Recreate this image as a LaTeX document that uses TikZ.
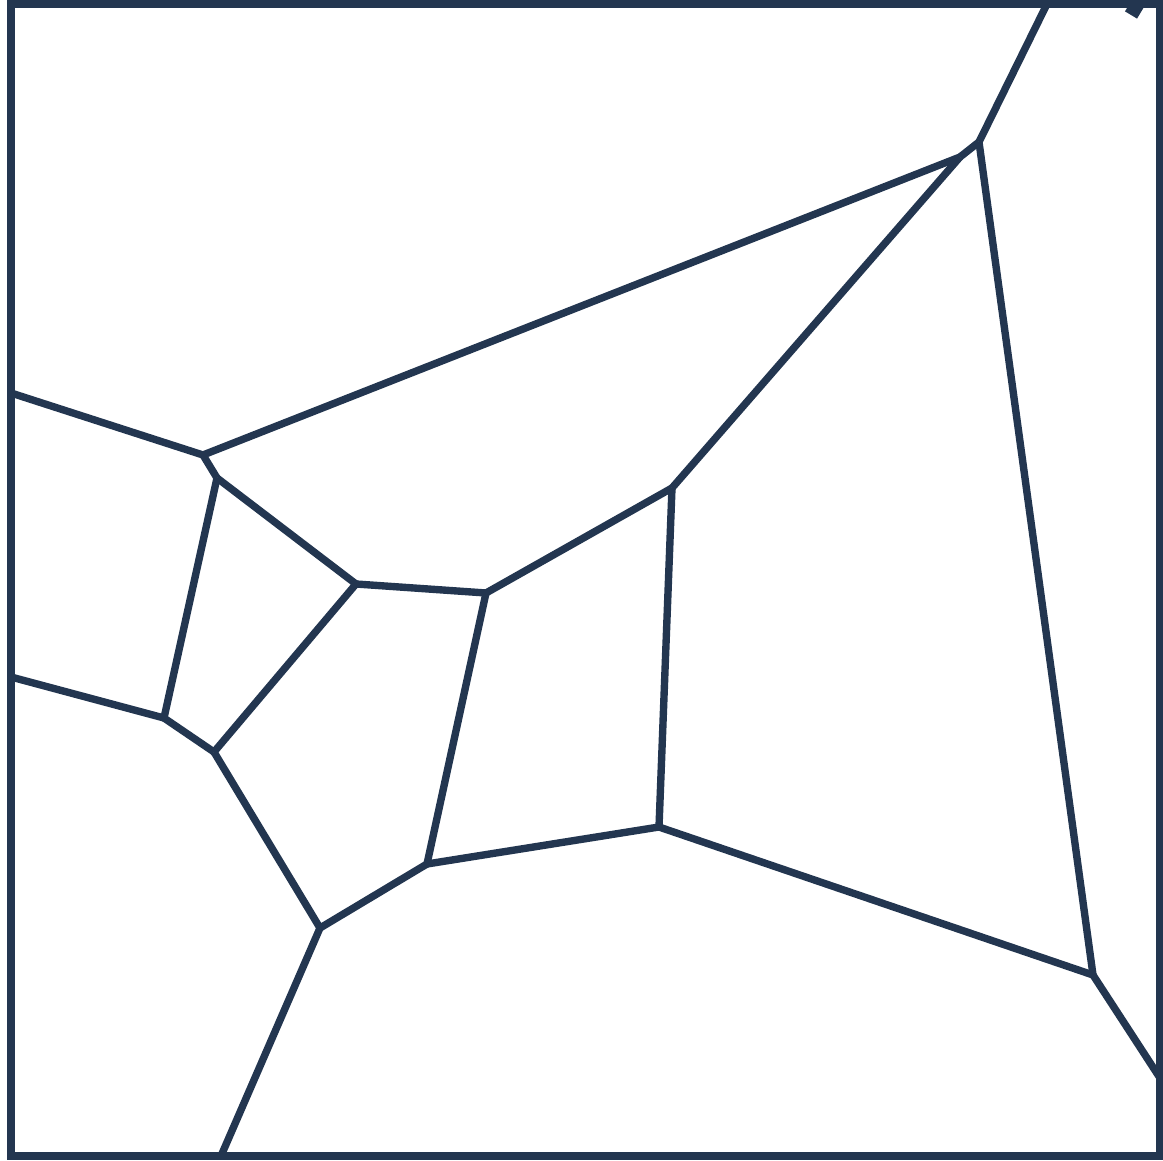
\documentclass[tikz,border=0pt]{standalone}
\usepackage{xcolor}
\usepackage{tikz}
\definecolor{cellnavy}{RGB}{35,54,80}
\tikzset{
  frame/.style={draw=cellnavy, line width=2.1pt},
  cellEdge/.style={draw=cellnavy, line width=2.1pt, line join=round}
}

\begin{document}
\begin{tikzpicture}[x=0.01cm, y=-0.01cm]

  \useasboundingbox (0,0) rectangle (1163,1161);

  % Outer frame
  \coordinate (nw) at (11,4);
  \coordinate (se) at (1160,1156);
  \draw[frame] (nw) rectangle (se);

  % Cell vertices
  \coordinate (vTopR)  at (979,142);
  \coordinate (vTopL)  at (960,157);
  \coordinate (vB)     at (203,455);
  \coordinate (vC)     at (217,478);
  \coordinate (vD)     at (356,584);
  \coordinate (vE)     at (486,593);
  \coordinate (vF)     at (672,488);
  \coordinate (vG)     at (659,827);
  \coordinate (vH)     at (427,864);
  \coordinate (vI)     at (320,928);
  \coordinate (vJ)     at (214,752);
  \coordinate (vK)     at (164,718);
  \coordinate (vL)     at (1093,975);

  % Where the edges meet the frame
  \coordinate (bTop)   at (1047,4);
  \coordinate (bLeftA) at (11,393);
  \coordinate (bLeftB) at (11,677);
  \coordinate (bBot)   at (221,1156);
  \coordinate (bRight) at (1160,1078);
  \coordinate (cutA)   at (1131,15);
  \coordinate (cutB)   at (1140,0);

  % Edges
  \draw[cellEdge] (bTop) -- (vTopR);
  \draw[cellEdge] (vTopR) -- (vTopL);
  \draw[cellEdge] (vTopR) -- (vL);
  \draw[cellEdge] (vTopL) -- (vB);
  \draw[cellEdge] (vTopL) -- (vF);
  \draw[cellEdge] (bLeftA) -- (vB);
  \draw[cellEdge] (vB) -- (vC);
  \draw[cellEdge] (vC) -- (vD);
  \draw[cellEdge] (vC) -- (vK);
  \draw[cellEdge] (vD) -- (vE);
  \draw[cellEdge] (vD) -- (vJ);
  \draw[cellEdge] (vE) -- (vF);
  \draw[cellEdge] (vE) -- (vH);
  \draw[cellEdge] (vF) -- (vG);
  \draw[cellEdge] (vG) -- (vH);
  \draw[cellEdge] (vG) -- (vL);
  \draw[cellEdge] (vH) -- (vI);
  \draw[cellEdge] (vI) -- (vJ);
  \draw[cellEdge] (vI) -- (bBot);
  \draw[cellEdge] (vJ) -- (vK);
  \draw[cellEdge] (vK) -- (bLeftB);
  \draw[cellEdge] (vL) -- (bRight);
  \draw[cellEdge, line width=4pt] (cutA) -- (cutB);

\end{tikzpicture}
\end{document}
